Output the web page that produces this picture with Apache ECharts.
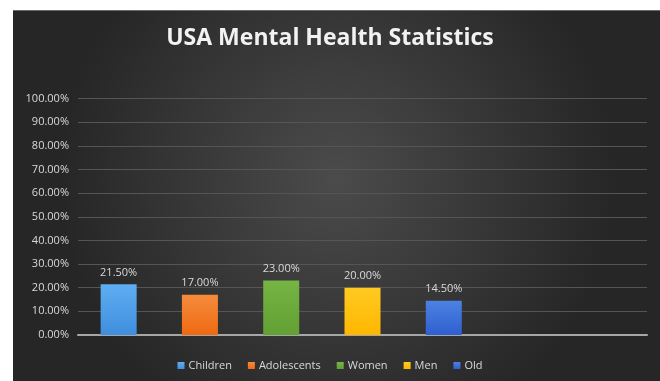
<!DOCTYPE html>
<html>
<head>
<meta charset="utf-8">
<title>USA Mental Health Statistics</title>
<script src="https://cdn.jsdelivr.net/npm/echarts@6/dist/echarts.min.js"></script>
<style>
  html, body { margin: 0; padding: 0; background: #ffffff; }
  #chart { width: 660px; height: 381px; }
</style>
</head>
<body>
<div id="chart"></div>
<script>
// Share of each group affected (percent)
const categories = ['Children', 'Adolescents', 'Women', 'Men', 'Old'];
const values = [21.5, 17.0, 23.0, 20.0, 14.5];
const yTicks = { min: 0, max: 100, interval: 10 };
// Two empty slots keep the plot running on past the last bar
const emptySlots = ['', ''];

const colors = [
  ['#5eaef2', '#3f8ede'],
  ['#f58b3c', '#ee6a12'],
  ['#76b443', '#62a034'],
  ['#ffca22', '#ffb700'],
  ['#4c82e2', '#2f5fcf']
];

const textColor = '#d9d9d9';
const fontFamily = '"Open Sans", "DejaVu Sans", sans-serif';

const slots = categories.concat(emptySlots);

const series = categories.map((name, i) => ({
  name: name,
  type: 'bar',
  stack: 'all',
  barWidth: 36,
  data: slots.map((_, j) => (j === i ? values[i] : null)),
  itemStyle: {
    color: {
      type: 'linear', x: 0, y: 0, x2: 0, y2: 1,
      colorStops: [
        { offset: 0, color: colors[i][0] },
        { offset: 1, color: colors[i][1] }
      ]
    }
  },
  label: {
    show: true,
    position: 'top',
    distance: 6,
    color: textColor,
    fontFamily: fontFamily,
    fontSize: 11,
    formatter: p => p.value.toFixed(2) + '%'
  }
}));

const chart = echarts.init(document.getElementById('chart'));
chart.setOption({
  animation: false,
  graphic: [{
    type: 'rect',
    left: 13,
    top: 10,
    shape: { width: 647, height: 371 },
    z: -10,
    style: {
      fill: {
        type: 'radial', x: 0.5, y: 0.45, r: 0.75,
        colorStops: [
          { offset: 0, color: '#4b4b4b' },
          { offset: 1, color: '#262626' }
        ]
      }
    }
  }, {
    type: 'rect',
    left: 13,
    top: 10,
    shape: { width: 647, height: 1 },
    z: -9,
    style: { fill: '#6a6a6a' }
  }],
  title: {
    text: 'USA Mental Health Statistics',
    left: 'center',
    top: 22,
    textStyle: {
      color: '#f2f2f2',
      fontFamily: fontFamily,
      fontWeight: 'bold',
      fontSize: 23
    }
  },
  legend: {
    data: categories,
    bottom: 5,
    left: 'center',
    itemWidth: 7,
    itemHeight: 7,
    itemGap: 16,
    icon: 'rect',
    textStyle: { color: textColor, fontFamily: fontFamily, fontSize: 11, padding: [0, 0, 0, -1] }
  },
  grid: { left: 78, right: 13, top: 98.5, bottom: 46, containLabel: false },
  xAxis: {
    type: 'category',
    data: slots,
    axisLine: { show: true, lineStyle: { color: '#a6a6a6', width: 2 } },
    axisTick: { show: false },
    axisLabel: { show: false },
    splitLine: { show: false }
  },
  yAxis: {
    type: 'value',
    min: yTicks.min,
    max: yTicks.max,
    interval: yTicks.interval,
    axisLine: { show: false },
    axisTick: { show: false },
    axisLabel: {
      color: textColor,
      fontFamily: fontFamily,
      fontSize: 11,
      margin: 9,
      formatter: v => v.toFixed(2) + '%'
    },
    splitLine: { lineStyle: { color: '#555555', width: 1 } }
  },
  series: series
});
</script>
</body>
</html>
